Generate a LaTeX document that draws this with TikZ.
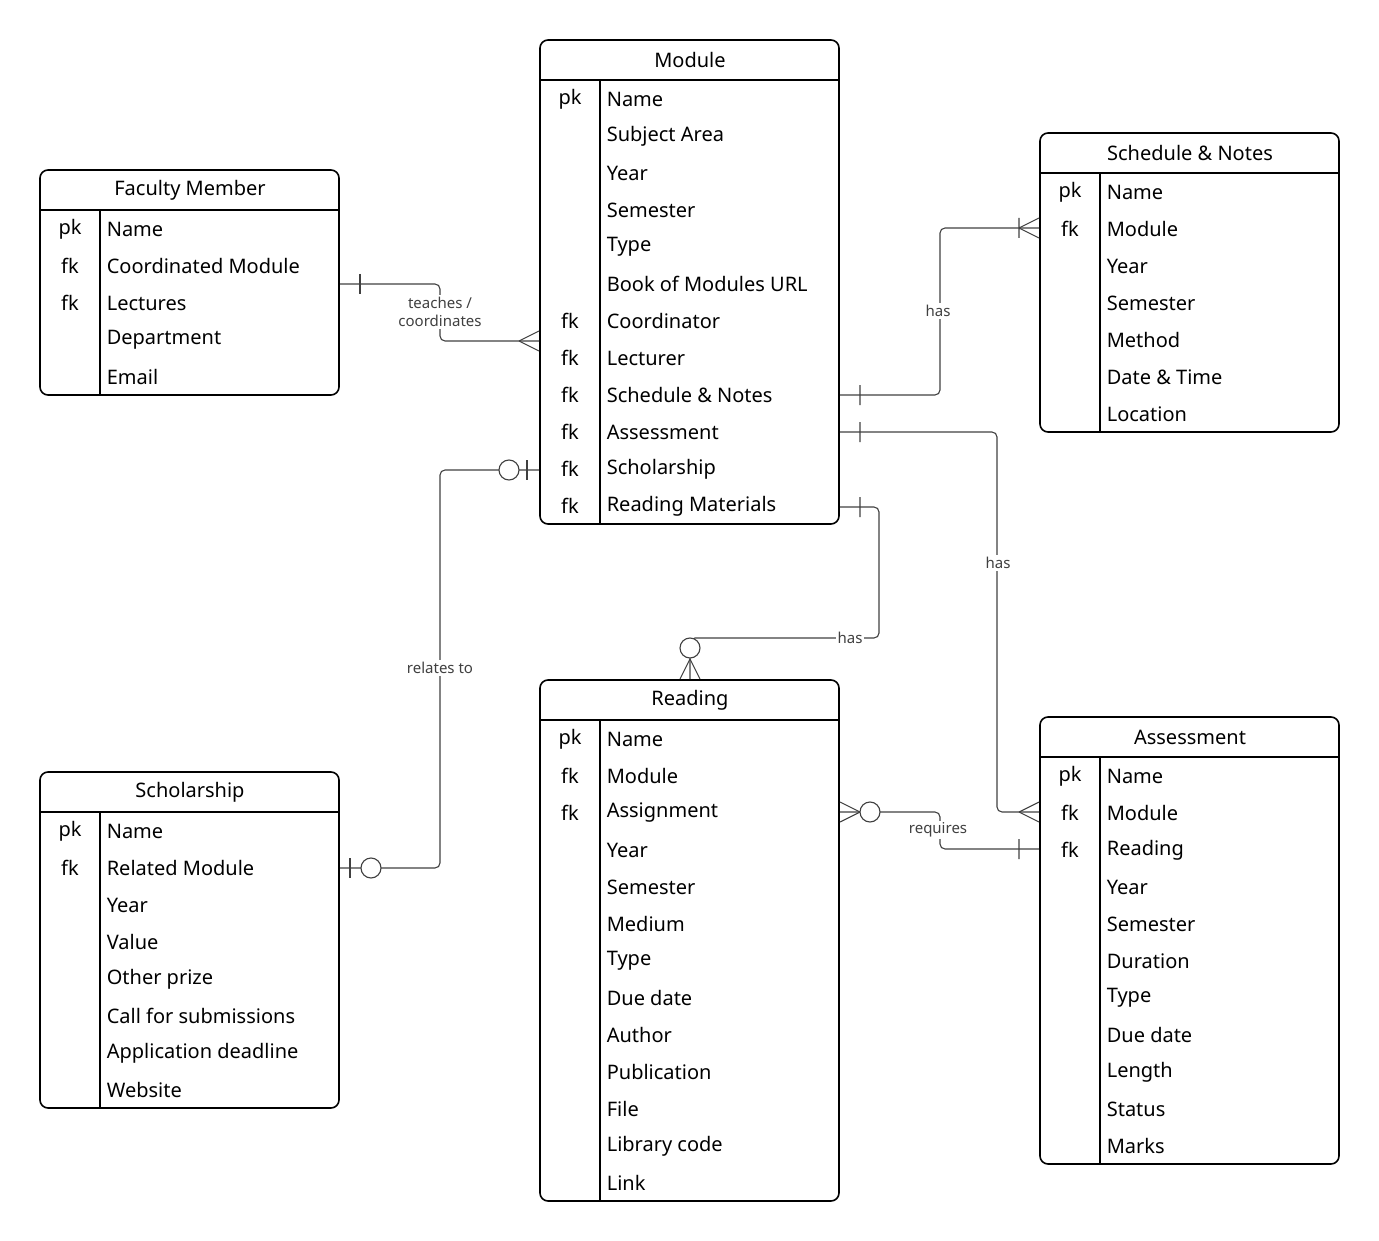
\documentclass[tikz,border=0pt]{standalone}
\usepackage{fontspec}
\setmainfont{Noto Sans}
\begin{document}
\begin{tikzpicture}[x=1pt,y=-1pt,line width=1.6pt,
  txt/.style={inner sep=0pt,font=\fontsize{20}{24}\selectfont},
  lbl/.style={inner sep=2pt,fill=white,text=black!75,font=\fontsize{15}{18}\selectfont\bfseries,align=center},
  conn/.style={line width=1.1pt,draw=black!75,rounded corners=5},
  mk/.style={line width=1.1pt,draw=black!75}]
\useasboundingbox (0,0) rectangle (1379,1241);
\newcommand\ertbl[6]{%
 \begin{scope}[shift={(#2,#3)}]
 \coordinate (#1) at (0,0);
 \foreach \k/\f [count=\i from 0] in {#6} {
   \node[txt] at (30,59+37*\i) {\k};
   \node[txt,anchor=west] at (66,59+37*\i) {\f};}
 \draw[rounded corners=8] (0,0) rectangle (299,40+37*#5);
 \draw (0,40)--(299,40); \draw (60,40)--(60,40+37*#5);
 \node[txt] at (150,20) {#4};
 \end{scope}}
\ertbl{module}{540}{40}{Module}{12}{pk/Name,/Subject Area,/Year,/Semester,/Type,/Book of Modules URL,fk/Coordinator,fk/Lecturer,fk/Schedule \& Notes,fk/Assessment,fk/Scholarship,fk/Reading Materials}
\ertbl{faculty}{40}{170}{Faculty Member}{5}{pk/Name,fk/Coordinated Module,fk/Lectures,/Department,/Email}
\ertbl{schedule}{1040}{133}{Schedule \& Notes}{7}{pk/Name,fk/Module,/Year,/Semester,/Method,/Date \& Time,/Location}
\ertbl{scholarship}{40}{772}{Scholarship}{8}{pk/Name,fk/Related Module,/Year,/Value,/Other prize,/Call for submissions,/Application deadline,/Website}
\ertbl{reading}{540}{680}{Reading}{13}{pk/Name,fk/Module,fk/Assignment,/Year,/Semester,/Medium,/Type,/Due date,/Author,/Publication,/File,/Library code,/Link}
\ertbl{assessment}{1040}{717}{Assessment}{11}{pk/Name,fk/Module,fk/Reading,/Year,/Semester,/Duration,/Type,/Due date,/Length,/Status,/Marks}
% connectors
\coordinate (f1) at (340,284); \coordinate (m1) at (539,341);
\draw[conn] (f1) -- (440,284) -- (440,341) -- (m1);
\draw[mk] (360,274)--(360,294);
\draw[mk] (519,341)--(539,331) (519,341)--(539,351);
\node[lbl] at (440,312) {teaches /\\coordinates};
\coordinate (m2) at (840,395); \coordinate (s2) at (1039,228);
\draw[conn] (m2) -- (940,395) -- (940,228) -- (s2);
\draw[mk] (860,385)--(860,405) (1019,218)--(1019,238) (1019,228)--(1039,218) (1019,228)--(1039,238);
\node[lbl] at (938,311) {has};
\coordinate (m3) at (840,432); \coordinate (a3) at (1039,812);
\draw[conn] (m3) -- (997,432) -- (997,812) -- (a3);
\draw[mk] (860,422)--(860,442) (1019,812)--(1039,802) (1019,812)--(1039,822);
\node[lbl] at (998,563) {has};
\coordinate (m4) at (840,507); \coordinate (r4) at (690,679);
\draw[conn] (m4) -- (879,507) -- (879,638) -- (690,638) -- (r4);
\draw[mk] (860,497)--(860,517) (690,659)--(680,679) (690,659)--(700,679);
\draw[mk,fill=white] (690,648) circle (10);
\node[lbl] at (850,638) {has};
\coordinate (m5) at (539,470); \coordinate (s5) at (340,868);
\draw[conn] (m5) -- (440,470) -- (440,868) -- (s5);
\draw[mk] (527,460)--(527,480) (350,858)--(350,878);
\draw[mk,fill=white] (509,470) circle (10) (371,868) circle (10);
\node[lbl] at (440,668) {relates to};
\coordinate (r6) at (840,812); \coordinate (a6) at (1039,849);
\draw[conn] (r6) -- (940,812) -- (940,849) -- (a6);
\draw[mk] (860,812)--(840,802) (860,812)--(840,822) (1019,839)--(1019,859);
\draw[mk,fill=white] (870,812) circle (10);
\node[lbl] at (938,830) {requires};
\end{tikzpicture}
\end{document}
